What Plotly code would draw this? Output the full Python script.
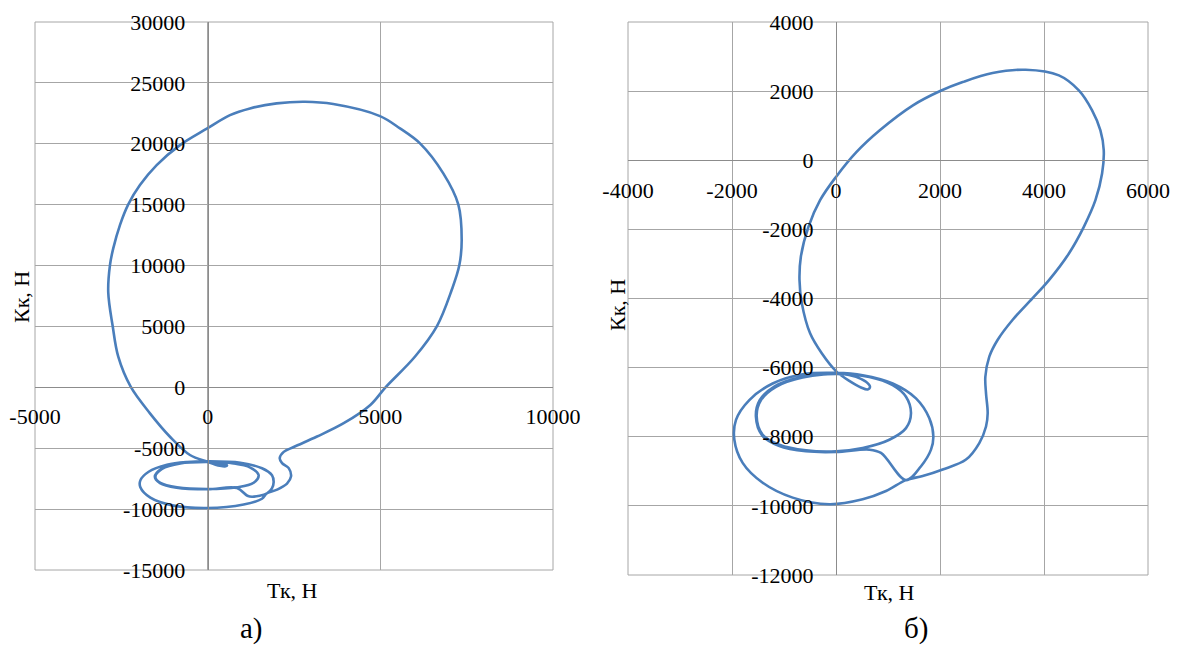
import plotly.graph_objects as go

# ---------------- data: plot а) ----------------
tk_a = [0, -791, -1322, -1515, -1370, -888, 0, 849, 1332, 1476, 1235, 753, 0,
        -800, -1340, -1530, -1380, -900, 0, 849,
        1150, 1290, 1718,
        1860, 1911, 1863, 1573, 946, 0, -598, -1177, -1708, -1949, -1949, -1660, -984, -19, 1042, 1573, 1718,
        2009, 2298, 2414, 2347, 2154, 2086, 2202, 2491, 3167, 3939, 4711, 5150, 6000, 6640, 7066, 7287, 7356,
        7257, 6823, 6148, 5569, 4990, 3637, 2818, 1998, 1225, 646, -12, -802, -1477, -1961, -2299, -2540,
        -2734, -2829, -2879, -2751, -2589, -2230,
        -1671, -1092, -513, -12, 356, 520, 560, 400, 150, 0]
kk_a = [-6136, -6250, -6704, -7357, -7840, -8209, -8351, -8209, -7840, -7215, -6590, -6250, -6136,
        -6230, -6690, -7340, -7860, -8240, -8370, -8266,
        -8900, -8980, -8700,
        -8300, -7783, -7215, -6647, -6193, -6079, -6136, -6363, -6931, -7641, -8209, -9061, -9714, -9913, -9629, -9150, -8700,
        -8400, -7900, -7316, -6634, -6224, -5815, -5300, -4900, -4040, -2948, -1447, 0, 2512, 5033, 7988, 10016, 12094,
        15024, 17569, 20032, 21264, 22274, 23259, 23448, 23316, 22906, 22355, 21264, 19893, 18251, 16609, 15024, 13325,
        11412, 10041, 7800, 5033, 2512, 49,
        -2135, -4056, -5558, -6108, -6437, -6480, -6400, -6250, -6150, -6136]

# ---------------- data: plot б) ----------------
tk_b = [128, -641, -1154, -1442, -1526, -1410, -1090, -577, 0, 513, 1026, 1346, 1442, 1346, 1090, 641, 0,
        -660, -1180, -1470, -1540, -1420, -1100, -580, 0, 641,
        865, 1346,
        1635, 1827, 1872, 1795, 1538, 1090, 513, 0, -641, -1218, -1667, -1923, -1955, -1795, -1410, -833, -128, 513, 962, 1346,
        1667, 2051, 2500, 2756, 2885, 2917, 2885, 2872, 2948, 3107, 3394, 3777, 4096, 4479, 4766, 4989, 5117, 5149,
        5085, 4925, 4670, 4287, 3649, 3011, 2437, 2003, 1480, 842, 396, 0, -306, -530, -676, -702, -657, -498, -274,
        0, 256, 481, 609, 654, 577, 385, 128]
kk_b = [-6180, -6287, -6555, -6938, -7400, -7943, -8230, -8393, -8421, -8326, -8086, -7751, -7321, -6842, -6507, -6268, -6180,
        -6270, -6540, -6950, -7420, -7960, -8260, -8420, -8440, -8373,
        -8469, -9254,
        -8852, -8373, -7991, -7464, -6890, -6459, -6220, -6153, -6191, -6459, -6938, -7512, -8086, -8756, -9330, -9761, -9952, -9809, -9570, -9254,
        -9139, -8948, -8660, -8182, -7703, -7321, -6746, -6268, -5682, -5200, -4622, -3996, -3467, -2696, -1926, -1156, -385, 289,
        867, 1445, 2022, 2456, 2619, 2523, 2263, 2003, 1589, 867, 241, -482, -1156, -1926, -2793, -3467, -4141, -5008, -5585,
        -6100, -6383, -6574, -6632, -6555, -6412, -6268, -6180]

# axis ranges / ticks
xrange_a, yrange_a = [-5000, 10000], [-15000, 30000]
xrange_b, yrange_b = [-4000, 6000], [-12000, 4000]
xticks_a = [-5000, 0, 5000, 10000]
yticks_a = [-15000, -10000, -5000, 0, 5000, 10000, 15000, 20000, 25000, 30000]
xticks_b = [-4000, -2000, 0, 2000, 4000, 6000]
yticks_b = [-12000, -10000, -8000, -6000, -4000, -2000, 0, 2000, 4000]

# the page body adds an 8px margin, so the figure is 8px smaller and shifted
OFF = 8
W, H = 1184 - OFF, 648 - OFF

def fx(px):
    return (px - OFF) / W

def fy(py):
    return 1 - (py - OFF) / H

dom_xa = [fx(35), fx(553)]
dom_ya = [fy(570), fy(22)]
dom_xb = [fx(628), fx(1148)]
dom_yb = [fy(575), fy(22)]

def zero_pos(rng, dom):
    return dom[0] + (0 - rng[0]) / (rng[1] - rng[0]) * (dom[1] - dom[0])

LINE = dict(color="#4a7ebb", width=2.6, shape="spline", smoothing=1.0)
FONT = dict(family="Liberation Serif", size=22, color="black")
GRID = "#a6a6a6"

fig = go.Figure()
fig.add_trace(go.Scatter(x=tk_a, y=kk_a, mode="lines", line=LINE, xaxis="x", yaxis="y",
                         showlegend=False, hoverinfo="skip"))
fig.add_trace(go.Scatter(x=tk_b, y=kk_b, mode="lines", line=LINE, xaxis="x2", yaxis="y2",
                         showlegend=False, hoverinfo="skip"))

def lab(v):
    return str(v)

def ax(rng, ticks, dom, pos, standoff):
    return dict(range=rng, tickmode="array", tickvals=ticks, ticktext=[lab(v) for v in ticks],
                domain=dom, anchor="free", position=pos, automargin=False,
                showgrid=True, gridcolor=GRID, gridwidth=1, zeroline=False,
                showline=True, linecolor="#8c8c8c", linewidth=1, ticks="",
                ticklabelstandoff=standoff, tickfont=FONT, fixedrange=True)

fig.update_layout(
    width=W, height=H, margin=dict(l=0, r=0, t=0, b=0, autoexpand=False),
    paper_bgcolor="white", plot_bgcolor="white",
    xaxis=ax(xrange_a, xticks_a, dom_xa, zero_pos(yrange_a, dom_ya), 9),
    yaxis=ax(yrange_a, yticks_a, dom_ya, zero_pos(xrange_a, dom_xa), 18),
    xaxis2=ax(xrange_b, xticks_b, dom_xb, zero_pos(yrange_b, dom_yb), 10),
    yaxis2=ax(yrange_b, yticks_b, dom_yb, zero_pos(xrange_b, dom_xb), 18),
)

for xr, yr in (("x", "y"), ("x2", "y2")):
    fig.add_shape(type="rect", xref=f"{xr} domain", yref=f"{yr} domain", x0=0, x1=1, y0=0, y1=1,
                  line=dict(color=GRID, width=1), layer="below")

ann = [
    ("Кк, Н", 21, 297, -90, 22),
    ("Кк, Н", 617, 305, -90, 22),
    ("Тк, Н", 292, 590, 0, 22),
    ("Тк, Н", 889, 592, 0, 22),
    ("а)", 251, 628, 0, 29),
    ("б)", 916, 628, 0, 29),
]
for text, px, py, ang, sz in ann:
    fig.add_annotation(text=text, x=fx(px), y=fy(py), xref="paper", yref="paper",
                       showarrow=False, textangle=ang, xanchor="center", yanchor="middle",
                       font=dict(FONT, size=sz))

fig.write_html("out.html")
